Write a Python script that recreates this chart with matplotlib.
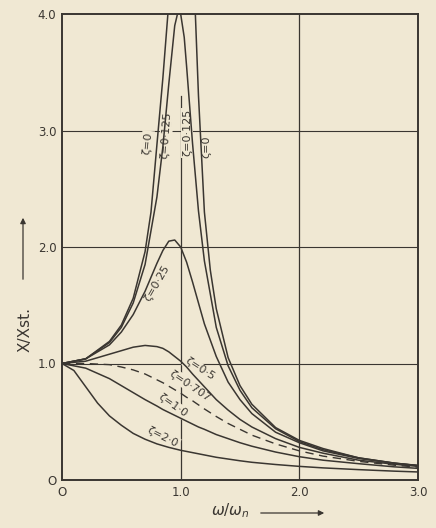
import matplotlib.pyplot as plt

plt.rcParams['font.family'] = ['DejaVu Sans']
plt.rcParams['mathtext.fontset'] = 'dejavusans'

PAPER = '#f0e8d3'
INK = '#3a3631'

# frequency ratio w/wn and amplitude ratio X/Xst
ratio = [0, 0.2, 0.4, 0.5, 0.6, 0.7, 0.8, 0.85, 0.9, 0.95, 1.0, 1.05, 1.1, 1.15,
         1.2, 1.3, 1.4, 1.5, 1.6, 1.8, 2.0, 2.2, 2.5, 2.8, 3.0]

zeta0_left_x = [0, 0.2, 0.4, 0.5, 0.6, 0.7, 0.75, 0.8, 0.85, 0.9]
zeta0_left_y = [1.0, 1.04, 1.19, 1.33, 1.56, 1.96, 2.3, 2.88, 3.45, 4.1]
zeta0_right_x = [1.12, 1.15, 1.2, 1.25, 1.3, 1.4, 1.5, 1.6, 1.8, 2.0, 2.2, 2.5, 2.8, 3.0]
zeta0_right_y = [4.1, 3.3, 2.3, 1.8, 1.47, 1.05, 0.81, 0.65, 0.45, 0.34, 0.27, 0.19, 0.145, 0.125]

zeta0125_x = [0, 0.2, 0.4, 0.5, 0.6, 0.7, 0.8, 0.85, 0.9, 0.95, 0.98, 1.0, 1.03, 1.05,
              1.1, 1.15, 1.2, 1.3, 1.4, 1.5, 1.6, 1.8, 2.0, 2.2, 2.5, 2.8, 3.0]
zeta0125_y = [1.0, 1.04, 1.18, 1.31, 1.52, 1.85, 2.43, 2.86, 3.40, 3.90, 4.03, 4.0, 3.80, 3.55,
              2.89, 2.31, 1.88, 1.31, 0.98, 0.77, 0.62, 0.44, 0.33, 0.26, 0.19, 0.145, 0.124]

zeta025_y = [1.0, 1.04, 1.16, 1.27, 1.42, 1.62, 1.86, 1.97, 2.05, 2.06, 2.0, 1.87, 1.70, 1.52,
             1.34, 1.06, 0.84, 0.69, 0.57, 0.41, 0.32, 0.25, 0.185, 0.143, 0.123]
zeta05_y = [1.0, 1.02, 1.08, 1.11, 1.14, 1.155, 1.145, 1.13, 1.10, 1.06, 1.02, 0.97, 0.91, 0.855,
            0.80, 0.69, 0.60, 0.52, 0.455, 0.355, 0.28, 0.23, 0.17, 0.135, 0.117]
zeta0707_y = [1.0, 1.0, 0.99, 0.97, 0.945, 0.91, 0.86, 0.835, 0.805, 0.775, 0.745, 0.71, 0.68, 0.645,
              0.61, 0.545, 0.485, 0.435, 0.385, 0.31, 0.25, 0.205, 0.16, 0.127, 0.11]
zeta1_y = [1.0, 0.96, 0.87, 0.81, 0.75, 0.69, 0.635, 0.605, 0.58, 0.555, 0.53, 0.505, 0.48, 0.455,
           0.435, 0.39, 0.355, 0.32, 0.29, 0.24, 0.20, 0.17, 0.14, 0.113, 0.10]

zeta2_x = [0, 0.1, 0.2, 0.3, 0.4, 0.5, 0.6, 0.7, 0.8, 0.9, 1.0, 1.1, 1.2, 1.3, 1.4, 1.5,
           1.6, 1.8, 2.0, 2.2, 2.5, 2.8, 3.0]
zeta2_y = [1.0, 0.94, 0.80, 0.66, 0.55, 0.47, 0.40, 0.35, 0.31, 0.28, 0.255, 0.235, 0.215, 0.195,
           0.18, 0.165, 0.152, 0.133, 0.117, 0.104, 0.089, 0.076, 0.069]

x_ticks = [0, 1, 2, 3]
x_ticklabels = ['O', '1.0', '2.0', '3.0']
y_ticks = [0, 1, 2, 3, 4]
y_ticklabels = ['O', '1.0', '2.0', '3.0', '4.0']

fig = plt.figure(figsize=(4.36, 5.28), dpi=100)
fig.patch.set_facecolor(PAPER)
ax = fig.add_axes([62 / 436, 48 / 528, 356 / 436, 466 / 528])
ax.set_facecolor(PAPER)
ax.set_xlim(0, 3)
ax.set_ylim(0, 4)

# grid, drawn like the original (x = 1 line stops below the labels)
for v in [1, 2, 3]:
    ax.axhline(v, color=INK, lw=0.8, zorder=1)
ax.axvline(2, color=INK, lw=0.9, zorder=1)
ax.axvline(1, ymax=3.3 / 4, color=INK, lw=0.9, zorder=1)

kw = dict(color=INK, lw=1.1, zorder=3, solid_capstyle='round')
ax.plot(zeta0_left_x, zeta0_left_y, **kw)
ax.plot(zeta0_right_x, zeta0_right_y, **kw)
ax.plot(zeta0125_x, zeta0125_y, **kw)
ax.plot(ratio, zeta025_y, **kw)
ax.plot(ratio, zeta05_y, **kw)
ax.plot(ratio, zeta0707_y, color=INK, lw=1.0, zorder=3, dashes=(6, 4))
ax.plot(ratio, zeta1_y, **kw)
ax.plot(zeta2_x, zeta2_y, **kw)

box = dict(boxstyle='square,pad=0.12', fc=PAPER, ec='none')
lab = dict(color=INK, fontsize=8, ha='center', va='center', bbox=box, zorder=2,
           rotation_mode='anchor')
ax.text(0.72, 2.89, 'ζ=0', rotation=84, **lab)
ax.text(0.876, 2.96, 'ζ=0·125', rotation=86, **lab)
ax.text(1.053, 2.98, 'ζ=0·125', rotation=90, **lab)
ax.text(1.22, 2.86, 'ζ=0', rotation=90, **lab)
ax.text(0.80, 1.69, 'ζ=0·25', rotation=60, **lab)
ax.text(1.16, 0.95, 'ζ=0·5', rotation=-33, **lab)
ax.text(1.08, 0.81, 'ζ=0·707', rotation=-34, **lab)
ax.text(0.93, 0.64, 'ζ=1·0', rotation=-35, **lab)
ax.text(0.85, 0.37, 'ζ=2·0', rotation=-27, **lab)

ax.set_xticks(x_ticks)
ax.set_xticklabels(x_ticklabels)
ax.set_yticks(y_ticks)
ax.set_yticklabels(y_ticklabels)
ax.tick_params(length=0, labelsize=8.5, colors=INK, pad=4)
for s in ax.spines.values():
    s.set_color(INK)
    s.set_linewidth(1.4)

fig.text(25 / 436, 1 - 330 / 528, 'X/Xst.', rotation=90, ha='center', va='center',
         fontsize=11, color=INK)
ax.annotate('', xy=(23 / 436, 1 - 215 / 528), xytext=(23 / 436, 1 - 282 / 528),
            xycoords='figure fraction', textcoords='figure fraction',
            arrowprops=dict(arrowstyle='-|>', color=INK, lw=0.9, mutation_scale=8))
fig.text(230 / 436, 1 - 511 / 528, r'$\omega/\omega_n$', ha='center', va='center',
         fontsize=11, color=INK)
ax.annotate('', xy=(327 / 436, 1 - 513 / 528), xytext=(258 / 436, 1 - 513 / 528),
            xycoords='figure fraction', textcoords='figure fraction',
            arrowprops=dict(arrowstyle='-|>', color=INK, lw=0.9, mutation_scale=8))

plt.savefig('out.png', dpi=100, facecolor=PAPER)
